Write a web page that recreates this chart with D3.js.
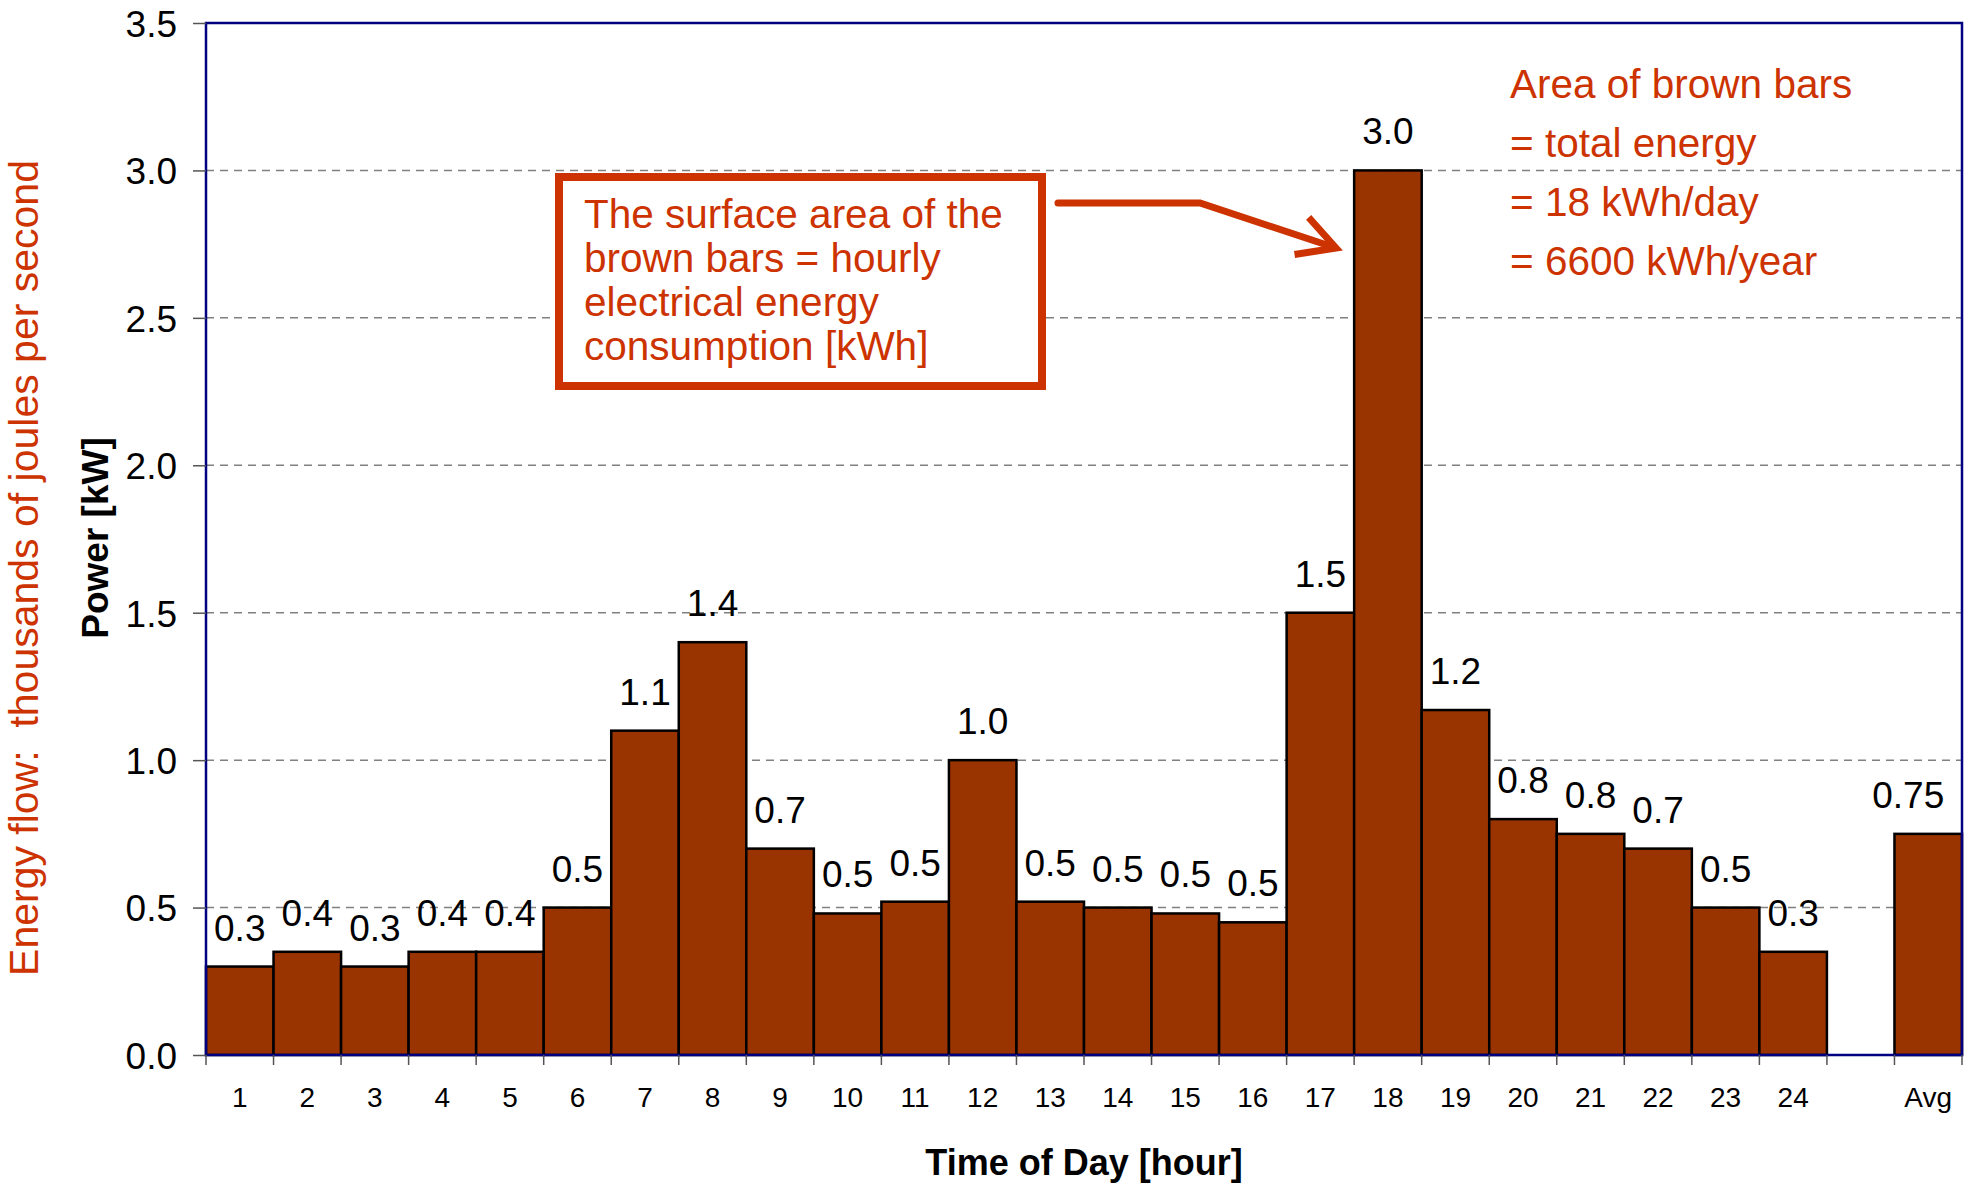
<!DOCTYPE html>
<html>
<head>
<meta charset="utf-8">
<script src="https://cdn.jsdelivr.net/npm/d3@7"></script>
<style>
  body { margin: 0; background: #fff; }
  text { font-family: "Liberation Sans", Arial, sans-serif; }
</style>
</head>
<body>
<svg id="chart" width="1973" height="1183"></svg>
<script>
// Data
const hours = ['1','2','3','4','5','6','7','8','9','10','11','12','13','14','15','16','17','18','19','20','21','22','23','24','','Avg'];
const power = [0.30, 0.35, 0.30, 0.35, 0.35, 0.50, 1.10, 1.40, 0.70, 0.48, 0.52, 1.00, 0.52, 0.50, 0.48, 0.45, 1.50, 3.00, 1.17, 0.80, 0.75, 0.70, 0.50, 0.35, null, 0.75];
const valueLabels = ['0.3','0.4','0.3','0.4','0.4','0.5','1.1','1.4','0.7','0.5','0.5','1.0','0.5','0.5','0.5','0.5','1.5','3.0','1.2','0.8','0.8','0.7','0.5','0.3','','0.75'];
const yTicks = [0, 0.5, 1.0, 1.5, 2.0, 2.5, 3.0, 3.5];
const boxLines = ['The surface area of the', 'brown bars = hourly', 'electrical energy', 'consumption [kWh]'];
const noteLines = ['Area of brown bars', '= total energy', '= 18 kWh/day', '= 6600 kWh/year'];

const orange = '#cc3300';
const svg = d3.select('#chart');

const plotLeft = 206, plotRight = 1962, plotTop = 23, plotBottom = 1055;

const x = d3.scaleBand()
    .domain(d3.range(hours.length))
    .range([plotLeft, plotRight])
    .padding(0);

const y = d3.scaleLinear()
    .domain([0, 3.5])
    .range([plotBottom, plotTop]);

// gridlines
svg.append('g').selectAll('line')
    .data(yTicks.filter(d => d > 0 && d < 3.5))
    .enter().append('line')
    .attr('x1', plotLeft).attr('x2', plotRight)
    .attr('y1', d => y(d)).attr('y2', d => y(d))
    .attr('stroke', '#808080')
    .attr('stroke-width', 1.5)
    .attr('stroke-dasharray', '8,6');

// bars
const data = power.map((v, i) => ({ i, v, label: valueLabels[i] })).filter(d => d.v !== null);

svg.append('g').selectAll('rect')
    .data(data)
    .enter().append('rect')
    .attr('x', d => x(d.i))
    .attr('y', d => y(d.v))
    .attr('width', x.bandwidth())
    .attr('height', d => plotBottom - y(d.v))
    .attr('fill', '#993300')
    .attr('stroke', '#000')
    .attr('stroke-width', 2.5);

// plot frame
svg.append('rect')
    .attr('x', plotLeft).attr('y', plotTop)
    .attr('width', plotRight - plotLeft).attr('height', plotBottom - plotTop)
    .attr('fill', 'none')
    .attr('stroke', '#000080')
    .attr('stroke-width', 2.5);

// value labels (the Avg one sits a bit left so it stays inside the frame)
svg.append('g').selectAll('text')
    .data(data)
    .enter().append('text')
    .attr('x', d => x(d.i) + x.bandwidth() / 2 + (d.i === hours.length - 1 ? -20 : 0))
    .attr('y', d => y(d.v) - 26)
    .attr('text-anchor', 'middle')
    .attr('font-size', 37)
    .attr('fill', '#000')
    .text(d => d.label);

// y axis
const yAxis = svg.append('g')
    .attr('transform', `translate(${plotLeft},0)`)
    .call(d3.axisLeft(y).tickValues(yTicks).tickFormat(d3.format('.1f')).tickSize(13).tickPadding(16));
yAxis.select('.domain').remove();
yAxis.selectAll('line').attr('stroke', '#555').attr('stroke-width', 1.5);
yAxis.selectAll('text')
    .attr('font-size', 37)
    .attr('font-family', '"Liberation Sans", Arial, sans-serif')
    .attr('fill', '#000')
    .attr('dy', '0.36em');

// x axis: ticks at band boundaries, labels centred in bands
const edges = d3.range(hours.length + 1).map(i => plotLeft + i * x.bandwidth());
svg.append('g').selectAll('line')
    .data(edges)
    .enter().append('line')
    .attr('x1', d => d).attr('x2', d => d)
    .attr('y1', plotBottom).attr('y2', plotBottom + 10)
    .attr('stroke', '#555')
    .attr('stroke-width', 1.5);

svg.append('g').selectAll('text')
    .data(hours)
    .enter().append('text')
    .attr('x', (d, i) => x(i) + x.bandwidth() / 2)
    .attr('y', 1107)
    .attr('text-anchor', 'middle')
    .attr('font-size', 28)
    .attr('fill', '#000')
    .text(d => d);

// axis titles
svg.append('text')
    .attr('x', 1084).attr('y', 1175)
    .attr('text-anchor', 'middle')
    .attr('font-size', 36)
    .attr('font-weight', 'bold')
    .text('Time of Day [hour]');

svg.append('text')
    .attr('transform', 'translate(108,538) rotate(-90)')
    .attr('text-anchor', 'middle')
    .attr('font-size', 37)
    .attr('font-weight', 'bold')
    .text('Power [kW]');

svg.append('text')
    .attr('transform', 'translate(38,568) rotate(-90)')
    .attr('text-anchor', 'middle')
    .attr('font-size', 41)
    .attr('fill', orange)
    .style('white-space', 'pre')
    .text('Energy flow:  thousands of joules per second');

// annotation box
svg.append('rect')
    .attr('x', 559).attr('y', 177)
    .attr('width', 483).attr('height', 209)
    .attr('fill', '#fff')
    .attr('stroke', orange)
    .attr('stroke-width', 8);

svg.append('g').selectAll('text')
    .data(boxLines)
    .enter().append('text')
    .attr('x', 584)
    .attr('y', (d, i) => 228 + i * 44)
    .attr('font-size', 40.5)
    .attr('fill', orange)
    .text(d => d);

// arrow
svg.append('path')
    .attr('d', 'M1058,203 L1200,203 L1333,247')
    .attr('fill', 'none')
    .attr('stroke', orange)
    .attr('stroke-width', 7)
    .attr('stroke-linecap', 'round')
    .attr('stroke-linejoin', 'miter');
svg.append('path')
    .attr('d', 'M1311,220 L1336,248 L1298,254')
    .attr('fill', 'none')
    .attr('stroke', orange)
    .attr('stroke-width', 7)
    .attr('stroke-linecap', 'square')
    .attr('stroke-linejoin', 'miter');

// note at top right
svg.append('g').selectAll('text')
    .data(noteLines)
    .enter().append('text')
    .attr('x', 1510)
    .attr('y', (d, i) => 98 + i * 59)
    .attr('font-size', 40.5)
    .attr('fill', orange)
    .text(d => d);
</script>
</body>
</html>
